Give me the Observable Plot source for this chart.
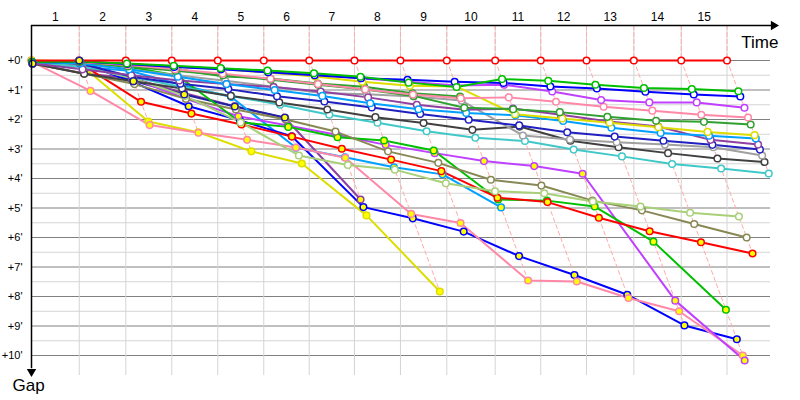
<!DOCTYPE html>
<html><head><meta charset="utf-8">
<script src="https://cdn.jsdelivr.net/npm/d3@7"></script>
<script src="https://cdn.jsdelivr.net/npm/@observablehq/plot@0.6"></script>
<style>body{margin:0;background:#fff}</style>
</head><body><div id="chart"></div>
<script>
// Leader's cumulative time (minutes) at the end of each lap (lap 0 = start)
const lapTimes = [0, 4.38, 8.65, 12.87, 17.09, 21.31, 25.48, 29.63, 33.85, 38.10, 42.54, 46.72, 50.92, 55.26, 59.61, 63.81];
const lapLabels = ["1","2","3","4","5","6","7","8","9","10","11","12","13","14","15"];
const gapTicks = [0,1,2,3,4,5,6,7,8,9,10];
const gapMinor = [0.5,1.5,2.5,3.5,4.5,5.5,6.5,7.5,8.5,9.5];

// Gap to leader (minutes) per lap, lap 0 first
const gapRed        = [0,0,0,0,0,0,0,0,0,0,0,0,0,0,0,0];
const gapGreen      = [0.05,0.03,0.1,0.18,0.26,0.34,0.43,0.55,0.75,0.9,0.63,0.69,0.82,0.93,0.97,1.04];
const gapBlue       = [0.05,0.03,0.12,0.22,0.3,0.4,0.5,0.6,0.65,0.72,0.76,0.88,0.95,1.06,1.15,1.22];
const gapViolet     = [0.05,0.04,0.12,0.2,0.28,0.36,0.47,0.6,0.72,0.85,0.82,1.05,1.34,1.42,1.42,1.6];
const gapPink       = [0.05,0.05,0.15,0.3,0.45,0.62,0.8,0.98,1.15,1.28,1.25,1.4,1.57,1.7,1.84,1.93];
const gapDarkGreen  = [0.05,0.05,0.2,0.35,0.5,0.65,0.82,0.98,1.2,1.6,1.65,1.75,1.91,2.04,2.08,2.17];
const gapYellow     = [0.0,0.03,0.12,0.2,0.29,0.41,0.54,0.72,0.86,0.88,1.82,1.97,2.11,2.26,2.42,2.53];
const gapLightBlue  = [0.05,0.1,0.3,0.55,0.8,1.0,1.2,1.45,1.65,1.78,1.86,2.05,2.28,2.46,2.55,2.64];
const gapPurple     = [0.1,0.3,0.5,0.68,0.8,0.9,1.05,1.25,1.5,1.67,1.63,1.84,2.07,2.24,2.69,2.85];
const gapNavy       = [0.05,0.1,0.55,0.79,0.97,1.21,1.39,1.59,1.81,2.01,2.2,2.43,2.58,2.72,2.86,3.02];
const gapGray       = [0.05,0.1,0.3,0.5,0.69,0.89,1.1,1.14,1.22,1.36,2.54,2.68,2.77,2.85,2.94,3.22];
const gapBlack      = [0.1,0.45,0.7,0.95,1.2,1.42,1.66,1.92,2.12,2.35,2.24,2.72,2.94,3.14,3.32,3.44];
const gapCyan       = [0.05,0.2,0.55,0.9,1.2,1.5,1.84,2.11,2.4,2.62,2.73,3.02,3.25,3.51,3.66,3.83];
const gapLightGreen = [0.05,0.2,0.6,1.2,2.1,3.22,3.54,3.7,4.16,4.43,4.5,4.78,4.95,5.16,5.29];
const gapOlive      = [0.1,0.45,0.8,1.3,1.66,2.0,2.41,3.08,3.47,4.04,4.24,4.75,5.08,5.54,6.0];
const gapRed2       = [0.1,0.1,1.4,1.8,2.17,2.58,2.99,3.36,3.75,4.65,4.8,5.33,5.79,6.16,6.54];
const gapGreen2     = [0.05,0.05,0.21,0.51,2.1,2.25,2.6,2.71,3.05,4.71,4.75,4.95,6.14,8.45];
const gapViolet2    = [0.05,0.15,0.6,1.3,1.89,2.2,2.52,2.86,3.14,3.41,3.58,3.84,8.14,10.17];
const gapPink2      = [0.05,1.03,2.19,2.45,2.69,2.95,3.3,5.2,5.51,7.46,7.49,8.05,8.5,10.0];
const gapBlue2      = [0.1,0.05,0.75,1.55,2.03,2.57,4.97,5.35,5.8,6.63,7.27,7.94,8.98,9.45];
const gapYellow2    = [0.05,0.15,2.07,2.43,3.08,3.49,5.25,7.83];
const gapLightBlue2 = [0.1,0.21,0.35,0.82,1.24,2.96,3.28,3.62,3.86,4.98];
const gapNavy2      = [0.1,0.0,0.7,1.15,1.56,1.93];
const gapPurple2    = [0.1,0.44,0.6,1.1,1.55,1.95,4.71];
const gapDarkGreen2 = [0.05,0.05,0.2,0.28,0.54,0.61,0.78,0.89,1.11,1.22];

const W = "white", Y = "#ffff00";
const seriesList = [
  {gaps: gapRed, color: "#ff0000", fill: W},
  {gaps: gapGreen, color: "#00c000", fill: W},
  {gaps: gapBlue, color: "#0000ff", fill: W},
  {gaps: gapViolet, color: "#c040ff", fill: W},
  {gaps: gapPink, color: "#ff88a8", fill: W},
  {gaps: gapDarkGreen, color: "#30a030", fill: W},
  {gaps: gapYellow, color: "#dddd00", fill: W},
  {gaps: gapLightBlue, color: "#00a0ff", fill: W},
  {gaps: gapPurple, color: "#9040a0", fill: W},
  {gaps: gapNavy, color: "#2020c0", fill: W},
  {gaps: gapGray, color: "#a0a0a0", fill: W},
  {gaps: gapBlack, color: "#404040", fill: W},
  {gaps: gapCyan, color: "#40c8c8", fill: W},
  {gaps: gapLightGreen, color: "#a8d078", fill: W},
  {gaps: gapOlive, color: "#888855", fill: W},
  {gaps: gapRed2, color: "#ff0000", fill: Y},
  {gaps: gapGreen2, color: "#00c000", fill: Y},
  {gaps: gapViolet2, color: "#c040ff", fill: Y},
  {gaps: gapPink2, color: "#ff88a8", fill: Y},
  {gaps: gapBlue2, color: "#0000ff", fill: Y},
  {gaps: gapYellow2, color: "#dddd00", fill: Y},
  {gaps: gapLightBlue2, color: "#00a0ff", fill: Y},
  {gaps: gapNavy2, color: "#2020a0", fill: Y, top: true},
  {gaps: gapPurple2, color: "#9040a0", fill: Y},
  {gaps: gapDarkGreen2, color: "#30a030", fill: Y}
];

// scale geometry
const yTop = -35/29.5, yBot = 315/29.5, yArrow = 317/29.5;
const xMax = 739/10.9, xArrow = 747/10.9;

const points = seriesList.flatMap((s, si) =>
  s.gaps.map((g, k) => ({s: si, k, t: lapTimes[k] + g, g, color: s.color, fill: s.fill, top: !!s.top})));
// lines: leader drawn last (on top); dots: leader first, others from last to first, flagged series on top
const pointsLinesOrder = points.slice().reverse();
const pointsDotsOrder = points.filter(p => p.s === 0)
  .concat(points.filter(p => p.s !== 0 && !p.top).reverse())
  .concat(points.filter(p => p.top));

const dashPts = [];
for (let k = 1; k < lapTimes.length; k++) {
  const pts = points.filter(p => p.k === k).sort((a, b) => a.g - b.g);
  dashPts.push({lap: k, x: lapTimes[k], y: yTop});
  pts.forEach(p => dashPts.push({lap: k, x: p.t, y: p.g}));
}

const chart = Plot.plot({
  width: 800, height: 400,
  marginLeft: 31, marginRight: 30, marginTop: 25, marginBottom: 25,
  x: {domain: [0, xMax], axis: null},
  y: {domain: [yTop, yBot], reverse: true, axis: null},
  color: {type: "identity"},
  style: {fontFamily: "'Liberation Sans', Arial, sans-serif", background: "white", overflow: "visible"},
  marks: [
    Plot.ruleY(gapMinor, {x1: 0, x2: xMax, stroke: "#d4d4d4", strokeWidth: 1}),
    Plot.ruleY(gapTicks, {x1: 0, x2: xMax, stroke: "#808080", strokeWidth: 1}),
    Plot.ruleX(lapTimes.slice(1), {y1: yTop, y2: yBot, stroke: "#d4d4d4", strokeWidth: 1}),
    Plot.line(dashPts, {x: "x", y: "y", z: "lap", stroke: "#ffaaaa", strokeWidth: 1, strokeDasharray: "4,3"}),
    Plot.line(pointsLinesOrder, {x: "t", y: "g", z: "s", stroke: "color", strokeWidth: 2}),
    Plot.dot(pointsDotsOrder, {x: "t", y: "g", stroke: "color", fill: "fill", r: 3.3, strokeWidth: 1.5}),
    Plot.ruleY([yTop], {x1: 0, x2: xArrow - 0.5, stroke: "black", strokeWidth: 1.5}),
    Plot.ruleX([0], {y1: yTop, y2: yArrow - 0.3, stroke: "black", strokeWidth: 1.5}),
    Plot.dot([0], {x: () => xArrow - 0.45, y: () => yTop, symbol: "triangle2", rotate: 90, r: 4.5, fill: "black", stroke: "none"}),
    Plot.dot([0], {x: () => 0, y: () => yArrow - 0.2, symbol: "triangle2", rotate: 180, r: 4.5, fill: "black", stroke: "none"}),
    Plot.text(lapLabels, {x: (d, i) => (lapTimes[i] + lapTimes[i + 1]) / 2, y: () => yTop, dy: -8, text: d => d, fontSize: 12, fill: "black"}),
    Plot.text(gapTicks, {x: () => 0, y: d => d, dx: -9, textAnchor: "end", text: d => `+${d}'`, fontSize: 11, fill: "black"}),
    Plot.text(["Time"], {frameAnchor: "top-right", dx: 8, dy: 10, textAnchor: "end", text: d => d, fontSize: 17, fill: "black"}),
    Plot.text(["Gap"], {frameAnchor: "bottom-left", dx: -19, dy: 15, textAnchor: "start", text: d => d, fontSize: 17, fill: "black"})
  ]
});
document.getElementById("chart").appendChild(chart);
</script>
</body></html>
